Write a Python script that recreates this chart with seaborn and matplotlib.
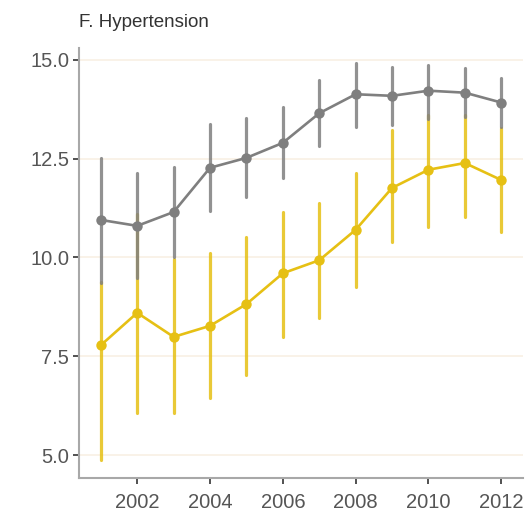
import numpy as np
import pandas as pd
import matplotlib
matplotlib.use("Agg")
import matplotlib.pyplot as plt
import seaborn as sns

years = [2001, 2002, 2003, 2004, 2005, 2006, 2007, 2008, 2009, 2010, 2011, 2012]

gray_mean = [10.95, 10.80, 11.15, 12.27, 12.52, 12.90, 13.65, 14.13, 14.09, 14.22, 14.17, 13.92]
gray_low  = [9.35, 9.48, 10.00, 11.18, 11.53, 12.00, 12.82, 13.30, 13.35, 13.50, 13.55, 13.29]
gray_high = [12.52, 12.14, 12.30, 13.38, 13.53, 13.81, 14.49, 14.93, 14.82, 14.87, 14.80, 14.54]

yel_mean = [7.78, 8.60, 7.99, 8.27, 8.82, 9.60, 9.93, 10.70, 11.76, 12.22, 12.39, 11.96]
yel_low  = [4.87, 6.06, 6.06, 6.44, 7.03, 7.99, 8.47, 9.25, 10.40, 10.77, 11.03, 10.65]
yel_high = [9.38, 11.10, 9.95, 10.11, 10.52, 11.15, 11.38, 12.14, 13.23, 13.60, 13.60, 13.28]

series_names = ["Series B", "Series A"]
palette = {"Series B": "#E6C014", "Series A": "#7F7F7F"}

title = "F. Hypertension"
yticks = [5.0, 7.5, 10.0, 12.5, 15.0]
xticks = [2002, 2004, 2006, 2008, 2010, 2012]

rows = []
for name, lo, mid, hi in [("Series B", yel_low, yel_mean, yel_high),
                          ("Series A", gray_low, gray_mean, gray_high)]:
    for yr, a, b, c in zip(years, lo, mid, hi):
        rows.append({"year": yr, "value": a, "group": name})
        rows.append({"year": yr, "value": b, "group": name})
        rows.append({"year": yr, "value": c, "group": name})
df = pd.DataFrame(rows)

sns.set_theme(style="white")
plt.rcParams["font.family"] = ["Liberation Sans", "DejaVu Sans"]

fig = plt.figure(figsize=(5.30, 5.19), dpi=100)
ax = fig.add_axes([0.149, 0.079, 0.838, 0.8285])

sns.lineplot(data=df, x="year", y="value", hue="group", hue_order=series_names,
             palette=palette, estimator=np.median, errorbar=("pi", 100),
             err_style="bars", marker="o", markersize=7.5, markeredgewidth=0,
             linewidth=1.9, err_kws={"linewidth": 2.3},
             legend=False, ax=ax)

for coll in ax.collections:
    coll.set_alpha(0.85)

ax.set_xlim(2000.4, 2012.6)
ax.set_ylim(4.42, 15.3)
ax.set_xticks(xticks)
ax.set_yticks(yticks)
ax.set_yticklabels([f"{v:.1f}" for v in yticks])
ax.set_xlabel("")
ax.set_ylabel("")

ax.grid(axis="y", color="#F8F0E4", linewidth=1.2)
ax.set_axisbelow(True)
for s in ["top", "right"]:
    ax.spines[s].set_visible(False)
for s in ["left", "bottom"]:
    ax.spines[s].set_color("#A8A8A8")
    ax.spines[s].set_linewidth(1.5)

ax.tick_params(axis="both", which="major", length=4, width=1.2, color="#333333",
               labelsize=14.5, labelcolor="#555555", left=True, bottom=True)
ax.tick_params(axis="x", pad=7)
ax.tick_params(axis="y", pad=3)

ax.set_title(title, loc="left", fontsize=13.5, color="#333333", pad=15, x=0.0)

fig.savefig("out.png", dpi=100)
